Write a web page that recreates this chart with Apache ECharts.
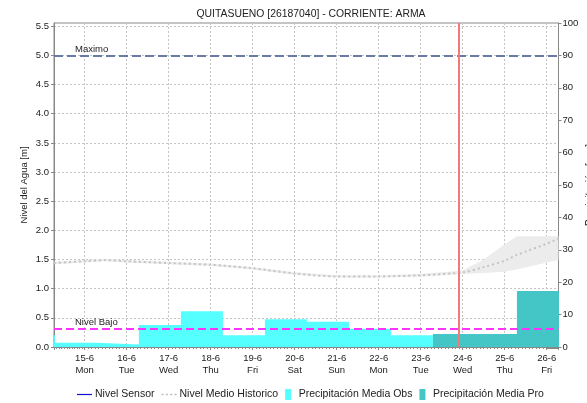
<!DOCTYPE html>
<html>
<head>
<meta charset="utf-8">
<script src="https://cdn.jsdelivr.net/npm/echarts@6/dist/echarts.min.js"></script>
<style>html,body{margin:0;padding:0;background:#fff}#c{width:587px;height:403px}</style>
</head>
<body>
<div id="c"></div>
<script>
const titleText = 'QUITASUENO [26187040] - CORRIENTE: ARMA';
const xMin = '2020-06-14 06:30';
const xMax = '2020-06-26 06:45';
const dayNames = ['Sun','Mon','Tue','Wed','Thu','Fri','Sat'];

// precipitation (mm, right axis) - value held from start time to next start
const obsStarts = ['2020-06-13 07:00','2020-06-14 07:00','2020-06-15 07:00','2020-06-16 07:00','2020-06-17 07:00','2020-06-18 07:00','2020-06-19 07:00','2020-06-20 07:00','2020-06-21 07:00','2020-06-22 07:00'];
const obsValues = [3.6, 1.35, 0.8, 6.8, 11.0, 3.6, 8.6, 7.8, 5.6, 3.6];
const obsEnd = '2020-06-23 07:00';
const proStarts = ['2020-06-23 07:00','2020-06-24 07:00','2020-06-25 07:00'];
const proValues = [4.0, 4.0, 17.3];
const proEnd = '2020-06-26 07:00';

// historic mean level (m, left axis) with its range
const histTimes = ['2020-06-14 06:30','2020-06-15 00:00','2020-06-15 12:00','2020-06-16 00:00','2020-06-17 00:00','2020-06-18 00:00','2020-06-19 00:00','2020-06-20 00:00','2020-06-21 00:00','2020-06-22 00:00','2020-06-23 00:00','2020-06-24 00:00','2020-06-24 12:00','2020-06-25 00:00','2020-06-25 07:00','2020-06-26 00:00','2020-06-26 06:45'];
const histMean = [1.44,1.47,1.49,1.47,1.44,1.41,1.35,1.26,1.21,1.21,1.23,1.28,1.37,1.48,1.58,1.77,1.86];
const histLow  = [1.42,1.45,1.47,1.45,1.42,1.39,1.33,1.24,1.19,1.19,1.21,1.25,1.27,1.29,1.33,1.45,1.49];
const histHigh = [1.46,1.49,1.51,1.49,1.46,1.43,1.37,1.28,1.23,1.23,1.25,1.31,1.50,1.76,1.90,1.90,1.90];

const nivelMaximo = 5.0;
const nivelBajo = 0.32;
const nowTime = '2020-06-23 21:30';
const leftMax = 50 / 9;   // left axis top (5.0 m aligns with 90 on right axis)
const rightMax = 100;

const FONT = 'Liberation Sans';
function ts(s){ return new Date(s.replace(' ', 'T')).getTime(); }

const obsData = obsStarts.map((t,i)=>[ts(t), obsValues[i]]).concat([[ts(obsEnd), obsValues[obsValues.length-1]]]);
const proData = proStarts.map((t,i)=>[ts(t), proValues[i]]).concat([[ts(proEnd), proValues[proValues.length-1]]]);
const meanData = histTimes.map((t,i)=>[ts(t), histMean[i]]);
const bandData = histTimes.map((t,i)=>[ts(t), histLow[i], histHigh[i]]);

const chart = echarts.init(document.getElementById('c'), null, {renderer:'canvas'});
chart.setOption({
  animation: false,
  backgroundColor: '#fff',
  textStyle: {fontFamily: FONT},
  title: {
    text: titleText, left: 306, top: 4, textAlign: 'center',
    textStyle: {fontSize: 10.4, fontWeight: 'normal', color: '#222', fontFamily: FONT}
  },
  legend: {
    left: 77, top: 389, padding: 0, itemGap: 7, itemWidth: 15, itemHeight: 11,
    textStyle: {fontSize: 10.5, color: '#222', fontFamily: FONT, padding: [0,0,0,-2]},
    data: [
      {name: 'Nivel Sensor', icon: 'path://M0,0h15v1.2h-15z'},
      {name: 'Nivel Medio Historico', icon: 'path://M0,0h2v1.6h-2zM4.3,0h2v1.6h-2zM8.6,0h2v1.6h-2zM12.9,0h2v1.6h-2z'},
      {name: 'Precipitación Media Obs', icon: 'path://M0,0h6v11h-6z'},
      {name: 'Precipitación Media Pro', icon: 'path://M0,0h6v11h-6z'}
    ]
  },
  grid: {left: 54, right: 28.5, top: 23, bottom: 56, outerBoundsMode: 'none', containLabel: false,
         show: true, borderColor: '#888', borderWidth: 1, backgroundColor: '#fff'},
  xAxis: {
    type: 'time', min: ts(xMin), max: ts(xMax),
    minInterval: 24*3600*1000, maxInterval: 24*3600*1000,
    axisLine: {lineStyle: {color: '#888'}},
    axisTick: {length: 3, lineStyle: {color: '#888'}},
    minorTick: {show: true, splitNumber: 12, length: 2, lineStyle: {color: '#888'}},
    splitLine: {show: true, lineStyle: {color: '#c4c4c4', type: [2,2]}},
    axisLabel: {
      fontSize: 9.5, color: '#222', lineHeight: 12, margin: 5, fontFamily: FONT,
      formatter: function(v){ const d = new Date(v); return d.getDate() + '-' + (d.getMonth()+1) + '\n' + dayNames[d.getDay()]; }
    }
  },
  yAxis: [
    {
      type: 'value', min: 0, max: leftMax, interval: 0.5,
      name: 'Nivel del Agua [m]', nameLocation: 'middle', nameGap: 25, nameMoveOverlap: false,
      nameTextStyle: {fontSize: 9.5, color: '#222', fontFamily: FONT},
      axisLine: {show: true, lineStyle: {color: '#888'}},
      axisTick: {show: true, length: 3, lineStyle: {color: '#888'}},
      splitLine: {show: true, lineStyle: {color: '#c4c4c4', type: [2,2]}},
      axisLabel: {fontSize: 9.5, color: '#222', margin: 5, showMaxLabel: false, fontFamily: FONT,
        formatter: v => v.toFixed(1)}
    },
    {
      type: 'value', min: 0, max: rightMax, interval: 10, position: 'right',
      name: 'Precipitación [mm]', nameLocation: 'middle', nameGap: 27, nameMoveOverlap: false,
      nameTextStyle: {fontSize: 10, color: '#222', fontFamily: FONT},
      axisLine: {show: true, lineStyle: {color: '#888'}},
      axisTick: {show: true, length: 3, lineStyle: {color: '#888'}},
      splitLine: {show: false},
      axisLabel: {fontSize: 9.5, color: '#222', margin: 4, fontFamily: FONT}
    }
  ],
  series: [
    {
      name: 'Rango Historico', type: 'custom', yAxisIndex: 0, z: 1, silent: true,
      data: bandData,
      encode: {x: 0, y: [1,2]},
      renderItem: function(params, api){
        if (params.dataIndexInside !== 0) return null;
        const upper = bandData.map(d => api.coord([d[0], d[2]]));
        const lower = bandData.slice().reverse().map(d => api.coord([d[0], d[1]]));
        return {type: 'polygon', shape: {points: upper.concat(lower)}, style: {fill: '#ececec'}};
      }
    },
    {
      name: 'Precipitación Media Obs', type: 'line', yAxisIndex: 1, step: 'end', z: 2,
      data: obsData, showSymbol: false, symbol: 'none', color: '#55ffff',
      lineStyle: {width: 0}, areaStyle: {color: '#55ffff', opacity: 1}
    },
    {
      name: 'Precipitación Media Pro', type: 'line', yAxisIndex: 1, step: 'end', z: 2,
      data: proData, showSymbol: false, symbol: 'none', color: '#45c6c6',
      lineStyle: {width: 0}, areaStyle: {color: '#45c6c6', opacity: 1}
    },
    {
      name: 'Nivel Sensor', type: 'line', yAxisIndex: 0, data: [], symbol: 'none',
      color: '#1010c8', lineStyle: {color: '#1010c8', width: 1.5}
    },
    {
      name: 'Nivel Medio Historico', type: 'line', yAxisIndex: 0, z: 3,
      data: meanData, smooth: 0.3, symbol: 'none', showSymbol: false, color: '#bdbdbd',
      lineStyle: {color: '#c4c4c4', width: 2, type: [2,3]},
      markLine: {
        silent: true, symbol: 'none', animation: false,
        data: [
          {yAxis: nivelMaximo, lineStyle: {color: '#6a7aa8', width: 2, type: [9,4]},
           label: {show: true, formatter: 'Maximo', position: 'insideStartTop', distance: [21, 1], color: '#222', fontSize: 9.5, fontFamily: FONT}},
          {yAxis: nivelBajo, lineStyle: {color: '#ff33ff', width: 2, type: [8,4]},
           label: {show: true, formatter: 'Nivel Bajo', position: 'insideStartTop', distance: [21, 1], color: '#222', fontSize: 9.5, fontFamily: FONT}},
          {xAxis: ts(nowTime), lineStyle: {color: '#f47878', width: 2, type: 'solid'}, label: {show: false}}
        ]
      }
    }
  ]
});
</script>
</body>
</html>
